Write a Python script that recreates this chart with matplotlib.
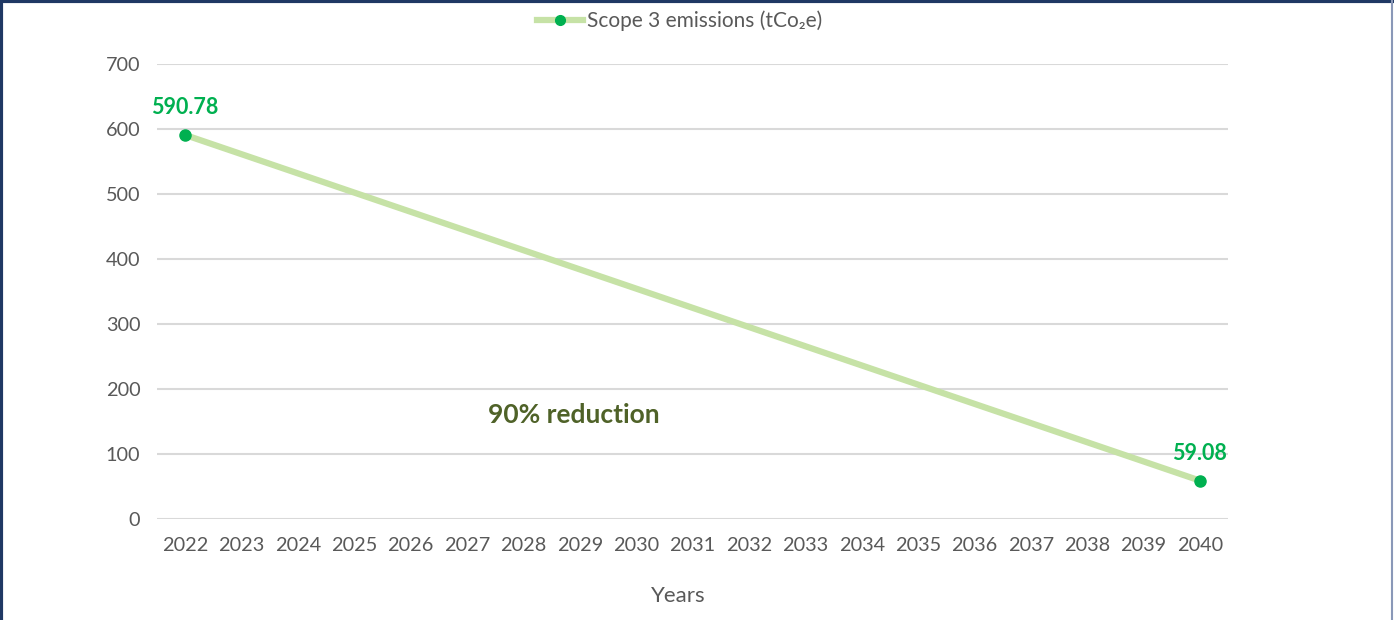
import matplotlib
matplotlib.use("Agg")
import matplotlib.pyplot as plt
from matplotlib.lines import Line2D

years = [str(y) for y in range(2022, 2041)]
emissions = [590.78] + [None] * 17 + [59.08]
start_label = "590.78"
end_label = "59.08"
y_ticks = [0, 100, 200, 300, 400, 500, 600, 700]
series_name = "Scope 3 emissions (tCo\u2082e)"
annotation = "90% reduction"

plt.rcParams['font.family'] = ['Lato', 'DejaVu Sans']

fig = plt.figure(figsize=(13.94, 6.2), dpi=100)
ax = fig.add_axes([157/1394, 1 - 519/620, (1228-157)/1394, (519-64)/620])

xs = [i for i, v in enumerate(emissions) if v is not None]
ys = [v for v in emissions if v is not None]

line_col = "#c6e2a6"
mark_col = "#00b050"
ax.plot(xs, ys, color=line_col, lw=4.5, solid_capstyle='round', zorder=3)
ax.plot(xs, ys, ls='none', marker='o', ms=8, color=mark_col, zorder=4)

ax.set_xlim(-0.5, len(years) - 0.5)
ax.set_ylim(0, 700)
ax.set_xticks(range(len(years)))
ax.set_xticklabels(years)
ax.set_yticks(y_ticks)
ax.yaxis.grid(True, color="#d9d9d9", lw=1.5)
ax.set_axisbelow(True)
for s in ax.spines.values():
    s.set_visible(False)
ax.tick_params(length=0, labelsize=14.3, colors="#595959")
ax.tick_params(axis='x', pad=13)
ax.tick_params(axis='y', pad=12)

ax.annotate(start_label, (xs[0], ys[0]), xytext=(0, 27), textcoords='offset pixels',
            ha='center', va='center', color=mark_col, fontsize=15.5, fontweight='bold')
ax.annotate(end_label, (xs[-1], ys[-1]), xytext=(0, 27), textcoords='offset pixels',
            ha='center', va='center', color=mark_col, fontsize=15.5, fontweight='bold')
ax.text(6.9, 160, annotation, ha='center', va='center', color="#4f6228",
        fontsize=19, fontweight='bold')

fig.text(678/1394, 1 - 596/620, "Years", ha='center', va='center',
         fontsize=16, color="#595959")

h, = ax.plot([], [], color=line_col, lw=4.5, marker='o', ms=7,
             markerfacecolor=mark_col, markeredgecolor=mark_col)
fig.legend([h], [series_name], loc='center', bbox_to_anchor=(680/1394, 1 - 21/620),
           frameon=False, fontsize=15, labelcolor="#595959", handlelength=2.2,
           handletextpad=0.2)

navy = "#1f3864"
fig.add_artist(Line2D([0.001, 0.001], [0, 1], transform=fig.transFigure, color=navy, lw=3))
fig.add_artist(Line2D([0, 1], [0.998, 0.998], transform=fig.transFigure, color=navy, lw=3))
fig.add_artist(Line2D([0.9985, 0.9985], [0, 1], transform=fig.transFigure, color="#8a98b8", lw=1.5))

fig.savefig("out.png", dpi=100)
